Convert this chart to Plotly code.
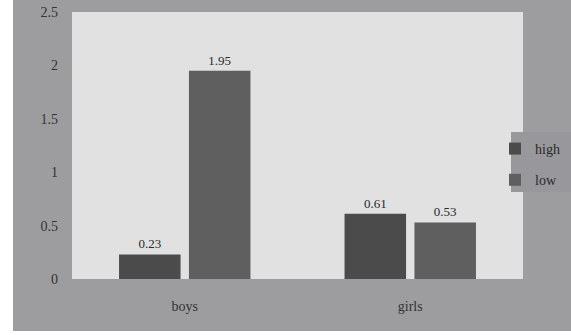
import plotly.graph_objects as go

categories = ["boys", "girls"]
high_values = [0.23, 0.61]
low_values = [1.95, 0.53]
y_ticks = [0, 0.5, 1, 1.5, 2, 2.5]
y_tick_labels = ["0", "0.5", "1", "1.5", "2", "2.5"]

W, H = 571, 335
L, R, T, B = 72, 48, 12, 56
pw, ph = W - L - R, H - T - B

def px_to_paper_x(px):
    return (px - L) / pw

def px_to_paper_y(py):
    return (H - B - py) / ph

outer_gray = "#9d9da0"
plot_gray = "#e1e1e1"
font_family = "Liberation Serif, Times New Roman, serif"

fig = go.Figure()
fig.add_trace(go.Bar(
    name="high", x=categories, y=high_values,
    marker=dict(color="#4b4b4b", line=dict(width=0)),
    text=[f"{v:.2f}" for v in high_values], textposition="outside",
    textfont=dict(family=font_family, size=13, color="#2a2a2a"),
    cliponaxis=False, legendgroup="a",
))
fig.add_trace(go.Bar(
    name="low", x=categories, y=low_values,
    marker=dict(color="#5f5f5f", line=dict(width=0)),
    text=[f"{v:.2f}" for v in low_values], textposition="outside",
    textfont=dict(family=font_family, size=13, color="#2a2a2a"),
    cliponaxis=False, legendgroup="b",
))

shapes = [
    dict(type="rect", xref="paper", yref="paper",
         x0=px_to_paper_x(13), x1=px_to_paper_x(571),
         y0=px_to_paper_y(331), y1=px_to_paper_y(0),
         fillcolor=outer_gray, line=dict(width=0), layer="below"),
    dict(type="rect", xref="paper", yref="paper",
         x0=0, x1=1, y0=0, y1=1,
         fillcolor=plot_gray, line=dict(width=0), layer="below"),
    dict(type="rect", xref="paper", yref="paper",
         x0=px_to_paper_x(511), x1=px_to_paper_x(571),
         y0=px_to_paper_y(192), y1=px_to_paper_y(132),
         fillcolor="#98989c", line=dict(width=0), layer="below"),
]

fig.update_layout(
    width=W, height=H,
    margin=dict(l=L, r=R, t=T, b=B, pad=0, autoexpand=False),
    paper_bgcolor="white",
    plot_bgcolor="rgba(0,0,0,0)",
    shapes=shapes,
    barmode="group",
    bargap=0.38,
    bargroupgap=0.12,
    font=dict(family=font_family, size=14, color="#333333"),
    showlegend=True,
    legend=dict(
        x=px_to_paper_x(495), y=px_to_paper_y(133),
        xanchor="left", yanchor="top",
        bgcolor="rgba(0,0,0,0)", borderwidth=0,
        font=dict(family=font_family, size=14, color="#2a2a2a"),
        traceorder="grouped", tracegroupgap=10,
        itemwidth=30,
    ),
    xaxis=dict(showgrid=False, showline=False, zeroline=False,
               ticks="", ticklabelstandoff=17,
               tickfont=dict(family=font_family, size=14, color="#333333")),
    yaxis=dict(range=[0, 2.5], tickvals=y_ticks, ticktext=y_tick_labels,
               showgrid=False, showline=False, zeroline=False,
               ticks="", ticklabelstandoff=13,
               tickfont=dict(family=font_family, size=14, color="#333333")),
)

fig.write_html("out.html")
